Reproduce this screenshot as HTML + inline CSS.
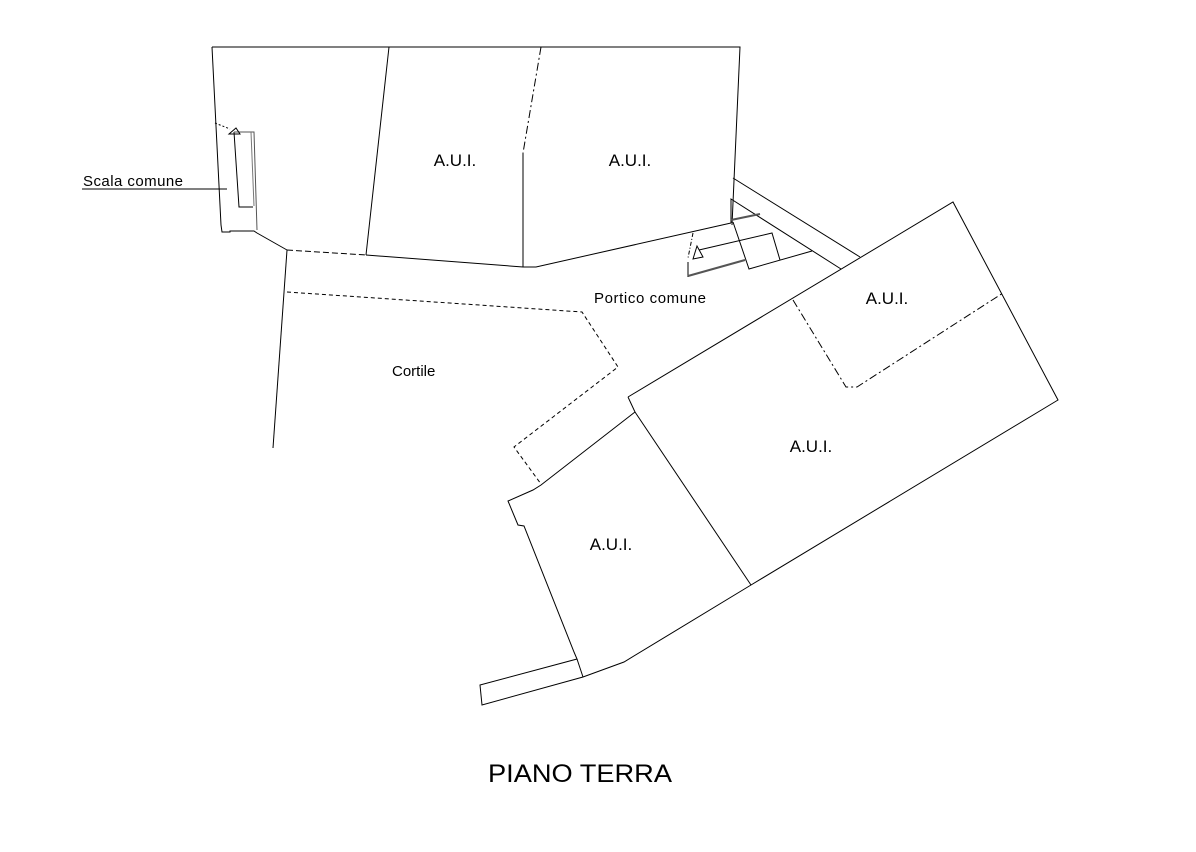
<!DOCTYPE html>
<html><head><meta charset="utf-8"><style>
html,body{margin:0;padding:0;background:#fff;}
svg{display:block;}
text{font-family:"Liberation Sans",Arial,sans-serif;fill:#000;}
</style></head><body>
<svg width="1196" height="852" viewBox="0 0 1196 852" xmlns="http://www.w3.org/2000/svg">
<g fill="none" stroke="#000" stroke-width="1">
<polyline points="212,47 740,47 732,225"/>
<polyline points="212,47 221,225 222,232 230,232 230,231 254,231 257,233 287,250"/>
<line x1="287" y1="250" x2="366" y2="255" stroke-dasharray="6,3"/>
<polyline points="366,255 523,267 536,267 731,223"/>
<line x1="389" y1="47" x2="366" y2="255"/>
<line x1="541" y1="47" x2="523" y2="153" stroke-dasharray="8,3,2,3"/>
<line x1="523" y1="153" x2="523" y2="267"/>
<line x1="215" y1="123" x2="230" y2="129" stroke-dasharray="2,2"/>
<polyline points="234,132 239,207 253,207"/>
<polyline points="234,132 254,132 257,230" stroke="#555"/>
<polyline points="251,132 254,206" stroke="#777"/>
<polygon points="229,134 236,128 240,134"/>
<line x1="82" y1="189" x2="227" y2="189"/>
<line x1="287" y1="250" x2="273" y2="448"/>
<polyline points="287,292 582,312 618,367 514,447 541,484" stroke-dasharray="4,3"/>
<line x1="733" y1="178" x2="860" y2="257"/>
<polyline points="731,223 731,199 841,269"/>
<line x1="731" y1="220" x2="760" y2="214" stroke="#555" stroke-width="2"/>
<polyline points="733,222 749,269 812,251"/>
<polyline points="699,250 772,233 780,260"/>
<polyline points="688,277 688,262"/>
<line x1="688" y1="276" x2="745" y2="260" stroke="#555" stroke-width="2"/>
<line x1="693" y1="233" x2="688" y2="258" stroke-dasharray="4,2,1,2"/>
<polygon points="693,259 697,246 703,257"/>
<polyline points="628,397 953,202 1058,400 751,585 624,662 583,677 482,705 480,685 577,659 574,652 524,526 518,525 508,501 533,490 541,485 635,412 628,397"/>
<line x1="583" y1="677" x2="577" y2="659"/>
<line x1="635" y1="412" x2="751" y2="585"/>
<polyline points="793,300 846,387 857,387 1003,293" stroke-dasharray="8,3,2,3"/>
</g>
<g font-size="17">
<text x="455" y="166" text-anchor="middle">A.U.I.</text>
<text x="630" y="166" text-anchor="middle">A.U.I.</text>
<text x="887" y="304" text-anchor="middle">A.U.I.</text>
<text x="811" y="452" text-anchor="middle">A.U.I.</text>
<text x="611" y="550" text-anchor="middle">A.U.I.</text>
</g>
<text x="594" y="303" font-size="15" textLength="112">Portico comune</text>
<text x="392" y="376" font-size="15">Cortile</text>
<text x="83" y="186" font-size="15" textLength="100">Scala comune</text>
<text x="488" y="782" font-size="25" textLength="184" lengthAdjust="spacingAndGlyphs">PIANO TERRA</text>
</svg>
</body></html>
